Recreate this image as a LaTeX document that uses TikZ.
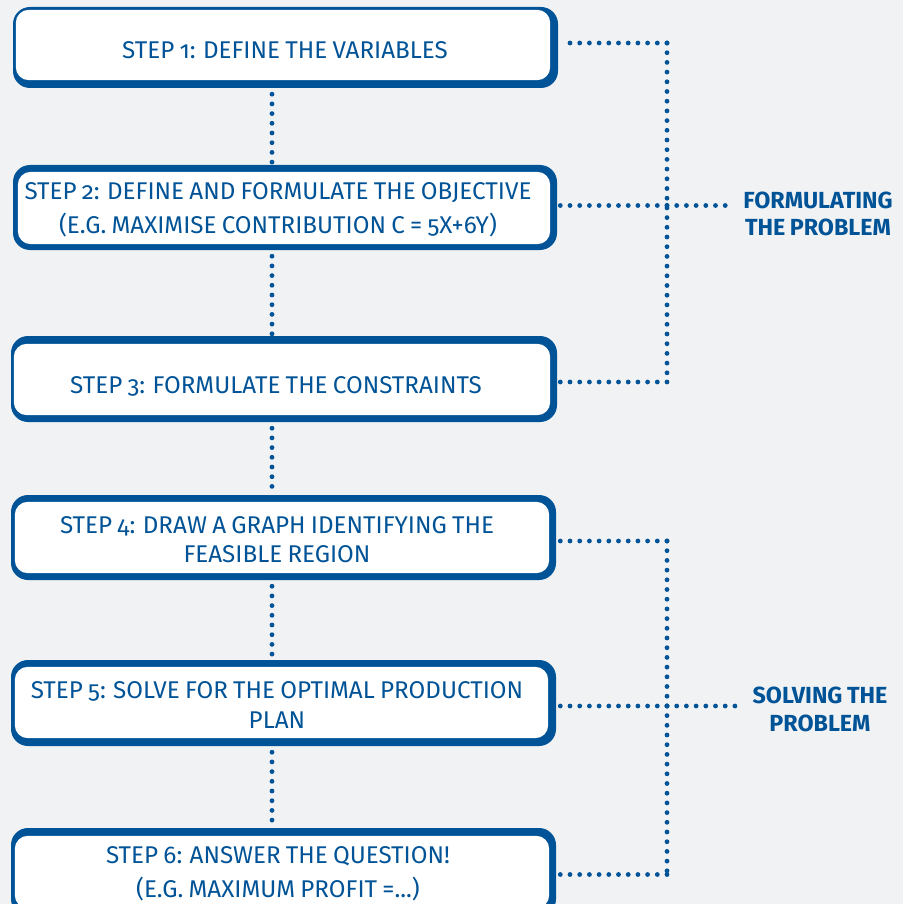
\documentclass[tikz,border=0pt]{standalone}
\usepackage{fontspec}
\setmainfont{Fira Sans}[Numbers={OldStyle,Proportional},WordSpace=0.82]
\usetikzlibrary{fit,calc}

\definecolor{brand}{RGB}{0,83,150}
\definecolor{paper}{RGB}{241,242,244}

\tikzset{
  frame/.style={fill=brand, draw=none, rounded corners=17pt, inner sep=0pt},
  steptext/.style={text=brand, align=center, inner sep=0pt},
  grouplabel/.style={text=brand, align=center, inner sep=0pt,
    font=\fontsize{23.3}{27.5}\selectfont\bfseries},
  dots/.style={draw=brand, line width=4.8pt, line cap=round,
    dash pattern=on 0pt off 9.7pt},
}

% #1 name, #2-#5 outer corners (x1,y1,x2,y2), #6-#9 white insets (left,top,right,bottom)
\newcommand\stepframe[9]{%
  \node[frame, fit={(#2,#3) (#4,#5)}] (#1) {};
  \fill[white, rounded corners=13pt]
    ([xshift=#6pt,yshift=-#7pt]#1.north west) rectangle
    ([xshift=-#8pt,yshift=#9pt]#1.south east);
}

\begin{document}
\begin{tikzpicture}[x=1pt,y=-1pt]
  \fill[paper] (0,0) rectangle (903,904);
  \useasboundingbox (0,0) rectangle (903,904);

  % step boxes
  \stepframe{b1}{13}{7}{558}{88}{3}{3}{8}{8}
  \stepframe{b2}{13}{165}{557}{250}{5}{7}{7}{6}
  \stepframe{b3}{11}{336}{557}{422}{3}{8}{7}{7}
  \stepframe{b4}{11}{495}{556}{580}{4}{7}{7}{7}
  \stepframe{b5}{11}{660}{556}{746}{4}{7}{8}{8}
  \stepframe{b6}{11}{828}{556}{916}{4}{8}{7}{8}

  % step texts
  \node[steptext, font=\fontsize{24.2}{34}\selectfont] (t1) at (285,50.5)
    {STEP 1: DEFINE THE VARIABLES};
  \node[steptext, font=\fontsize{24.2}{34}\selectfont] (t2) at (278,210)
    {STEP 2: DEFINE AND FORMULATE THE OBJECTIVE\\(E.G. MAXIMISE CONTRIBUTION C = 5X+6Y)};
  \node[steptext, font=\fontsize{24.2}{34}\selectfont] (t3) at (276,386)
    {STEP 3: FORMULATE THE CONSTRAINTS};
  \node[steptext, font=\fontsize{24.2}{28.5}\selectfont] (t4) at (277,539.5)
    {STEP 4: DRAW A GRAPH IDENTIFYING THE\\FEASIBLE REGION};
  \node[steptext, font=\fontsize{24.2}{30}\selectfont] (t5) at (277,705)
    {STEP 5: SOLVE FOR THE OPTIMAL PRODUCTION\\PLAN};
  \node[steptext, font=\fontsize{24.2}{34}\selectfont] (t6) at (278,874)
    {STEP 6: ANSWER THE QUESTION!\\(E.G. MAXIMUM PROFIT =...)};

  % group labels
  \node[grouplabel] (g1) at (818,214) {FORMULATING\\THE PROBLEM};
  \node[grouplabel] (g2) at (820,709.5) {SOLVING THE\\PROBLEM};

  % vertical spine between the steps
  \coordinate (spine) at (272,0);
  \foreach \a/\b in {b1/b2,b2/b3,b3/b4,b4/b5,b5/b6}
    \draw[dots] ([yshift=-6pt]\a.south -| spine) -- (\b.north -| spine);

  % bracket of the first group
  \coordinate (r1) at (667,43);
  \coordinate (r2) at (667,205.5);
  \coordinate (r3) at (667,382);
  \draw[dots] (r1) -- (r3);
  \draw[dots] (r1) -- ([xshift=3pt]b1.east |- r1);
  \draw[dots] (r2) -- ([xshift=3pt]b2.east |- r2);
  \draw[dots] (r3) -- ([xshift=3pt]b3.east |- r3);
  \draw[dots] (r2) -- ([xshift=-9pt]g1.west |- r2);

  % bracket of the second group
  \coordinate (s1) at (667,541);
  \coordinate (s2) at (667,706);
  \coordinate (s3) at (667,874.5);
  \draw[dots] (s1) -- (s3);
  \draw[dots] (s1) -- ([xshift=3pt]b4.east |- s1);
  \draw[dots] (s2) -- ([xshift=3pt]b5.east |- s2);
  \draw[dots] (s3) -- ([xshift=3pt]b6.east |- s3);
  \draw[dots] (s2) -- ([xshift=-9pt]g2.west |- s2);
\end{tikzpicture}
\end{document}
